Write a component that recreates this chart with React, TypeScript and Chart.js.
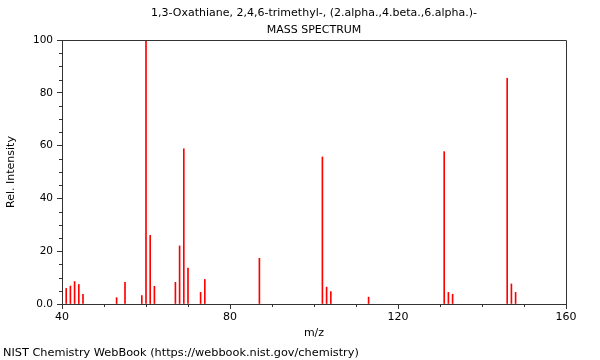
import React, { useEffect, useRef } from "react";
import { Chart, registerables } from "chart.js";

Chart.register(...registerables);

const mz = [41, 42, 43, 44, 45, 53, 55, 59, 60, 61, 62, 67, 68, 69, 70, 73, 74, 87, 102, 103, 104, 113, 131, 132, 133, 146, 147, 148];
const intensity = [5.9, 6.8, 8.5, 7.4, 3.7, 2.4, 8.2, 3.2, 100, 26.0, 6.7, 8.2, 22.0, 58.8, 13.6, 4.4, 9.3, 17.3, 55.7, 6.4, 4.7, 2.6, 57.7, 4.4, 3.7, 85.5, 7.6, 4.4];

const titleLine1 = "1,3-Oxathiane, 2,4,6-trimethyl-, (2.alpha.,4.beta.,6.alpha.)-";
const titleLine2 = "MASS SPECTRUM";
const xTitle = "m/z";
const yTitle = "Rel. Intensity";
const footer = "NIST Chemistry WebBook (https://webbook.nist.gov/chemistry)";

const FONT = "'DejaVu Sans', sans-serif";
const AXIS = "#333";

const decor = {
  id: "decor",
  afterDraw(chart: any) {
    const ctx = chart.ctx;
    const a = chart.chartArea;
    const xs = chart.scales.x;
    const ys = chart.scales.y;
    ctx.save();
    ctx.strokeStyle = AXIS;
    ctx.lineWidth = 1;
    ctx.beginPath();
    ctx.moveTo(a.left, a.top + 0.5);
    ctx.lineTo(a.right + 0.5, a.top + 0.5);
    ctx.lineTo(a.right + 0.5, a.bottom);
    ctx.stroke();
    ctx.beginPath();
    for (let v = 0; v <= 100; v += 5) {
      if (v % 20 === 0) continue;
      const y = Math.round(ys.getPixelForValue(v)) + 0.5;
      ctx.moveTo(a.left - 3, y);
      ctx.lineTo(a.left, y);
    }
    for (let v = 40; v <= 160; v += 10) {
      if (v % 40 === 0) continue;
      const x = Math.round(xs.getPixelForValue(v)) + 0.5;
      ctx.moveTo(x, a.bottom);
      ctx.lineTo(x, a.bottom + 3);
    }
    ctx.stroke();
    ctx.fillStyle = "#000";
    ctx.textAlign = "center";
    ctx.textBaseline = "middle";
    const cx = (a.left + a.right) / 2;
    ctx.font = "11px " + FONT;
    ctx.fillText(titleLine1, cx, 13);
    ctx.fillText(titleLine2, cx, 30);
    ctx.fillText(xTitle, cx, 333);
    ctx.save();
    ctx.translate(11, (a.top + a.bottom) / 2);
    ctx.rotate(-Math.PI / 2);
    ctx.font = "11px " + FONT;
    ctx.fillText(yTitle, 0, 0);
    ctx.restore();
    ctx.textAlign = "left";
    ctx.font = "11.3px " + FONT;
    ctx.fillText(footer, 3, 353);
    ctx.restore();
  },
};

export default function App() {
  const ref = useRef<HTMLCanvasElement>(null);
  useEffect(() => {
    if (!ref.current) return;
    const chart = new Chart(ref.current, {
      type: "bar",
      data: {
        datasets: [
          {
            data: mz.map((m, i) => ({ x: m, y: intensity[i] })),
            backgroundColor: "rgb(255,0,0)",
            borderWidth: 0,
            barThickness: 1,
          },
        ],
      },
      options: {
        animation: false,
        responsive: false,
        maintainAspectRatio: false,
        layout: { padding: { top: 40, right: 34, left: 0, bottom: 0 } },
        plugins: { legend: { display: false }, tooltip: { enabled: false }, title: { display: false } },
        scales: {
          x: {
            type: "linear",
            min: 40,
            max: 160,
            offset: false,
            afterFit: (s: any) => { s.height = 56; },
            ticks: { stepSize: 40, color: "#000", font: { family: FONT, size: 11 }, padding: 2, maxRotation: 0 },
            grid: { drawOnChartArea: false, tickLength: 5, color: AXIS, offset: false },
            border: { display: true, color: AXIS },
          },
          y: {
            min: 0,
            max: 100,
            afterFit: (s: any) => { s.width = 62; },
            ticks: {
              stepSize: 20,
              color: "#000",
              font: { family: FONT, size: 10.5 },
              padding: 4,
              callback: (v: any) => (v === 0 ? "0.0" : String(v)),
            },
            grid: { drawOnChartArea: false, tickLength: 5, color: AXIS },
            border: { display: true, color: AXIS },
          },
        },
      },
      plugins: [decor],
    });
    return () => chart.destroy();
  }, []);
  return (
    <div style={{ position: "absolute", left: 0, top: 0, width: 600, height: 360, background: "#fff" }}>
      <canvas ref={ref} width={600} height={360} style={{ width: 600, height: 360 }} />
    </div>
  );
}
